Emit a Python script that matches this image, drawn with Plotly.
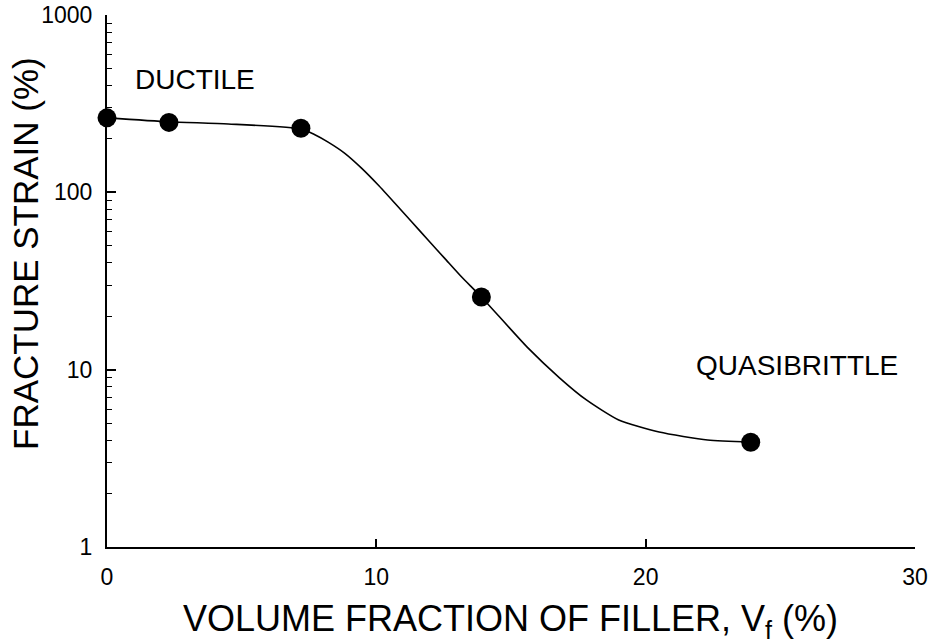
import plotly.graph_objects as go

# Measured points
points_x = [0, 2.3, 7.2, 13.9, 23.9]
points_y = [263, 248, 230, 25.7, 3.9]

# Smooth fitted curve
curve_x = [0, 2.3, 4.5, 7.2, 7.7, 8.21, 8.83, 9.45, 10.07, 10.69, 11.31, 11.92, 12.54, 13.16,
           13.9, 15.6, 16.8, 17.8, 19.0, 20.5, 22.3, 23.9]
curve_y = [263, 250, 243, 228, 212, 192, 166, 137, 110, 86.8, 68.3, 53.8, 42.4, 33.4,
           25.7, 13.4, 9.0, 6.75, 5.2, 4.45, 4.01, 3.91]

x_tickvals = [0, 10, 20, 30]
x_ticktext = ["0", "10", "20", "30"]
y_tickvals = [1, 10, 100, 1000]
y_ticktext = ["1", "10", "100", "1000"]
y_minor = [m * d for d in [1, 10, 100] for m in range(2, 10)]

x_title = "VOLUME FRACTION OF FILLER, V<sub>f</sub> (%)"
y_title = "FRACTURE STRAIN (%)"
label_ductile = "DUCTILE"
label_brittle = "QUASIBRITTLE"

FONT = "Arial, Liberation Sans, Helvetica, sans-serif"

W, H = 930, 643
L, R, T, B = 107, 15, 15, 96


def px_to_paper(xp, yp):
    return (xp - L) / (W - L - R), (H - B - yp) / (H - T - B)


fig = go.Figure()
fig.add_trace(go.Scatter(
    x=curve_x, y=curve_y, mode="lines",
    line=dict(color="black", width=1.6, shape="spline", smoothing=0.6),
    hoverinfo="skip", showlegend=False, cliponaxis=False,
))
fig.add_trace(go.Scatter(
    x=points_x, y=points_y, mode="markers",
    marker=dict(color="black", size=19, line=dict(width=0)),
    showlegend=False, cliponaxis=False,
))

fig.add_annotation(x=0.96, y=2.634, xref="x", yref="y", text=label_ductile,
                   showarrow=False, xanchor="left", yanchor="middle",
                   font=dict(family=FONT, size=28, color="black"))
fig.add_annotation(x=21.8, y=1.021, xref="x", yref="y", text=label_brittle,
                   showarrow=False, xanchor="left", yanchor="middle",
                   font=dict(family=FONT, size=28, color="black"))

# Axis titles
ax, ay = px_to_paper(510, 621)
fig.add_annotation(x=ax, y=ay, xref="paper", yref="paper", text=x_title,
                   showarrow=False, xanchor="center", yanchor="middle",
                   font=dict(family=FONT, size=36, color="black"))
ax, ay = px_to_paper(25, 254)
fig.add_annotation(x=ax, y=ay, xref="paper", yref="paper", text=y_title,
                   showarrow=False, textangle=-90, xanchor="center", yanchor="middle",
                   font=dict(family=FONT, size=35, color="black"))

fig.update_layout(
    width=W, height=H,
    margin=dict(l=L, r=R, t=T, b=B, autoexpand=False),
    paper_bgcolor="white", plot_bgcolor="white",
    font=dict(family=FONT, color="black"),
)
fig.update_xaxes(
    range=[0, 30], showgrid=False, zeroline=False, automargin=False,
    showline=True, linecolor="black", linewidth=2,
    tickmode="array", tickvals=x_tickvals, ticktext=x_ticktext,
    ticks="inside", ticklen=8, tickwidth=1.5, tickcolor="black",
    tickfont=dict(family=FONT, size=23, color="black"),
    ticklabelstandoff=8,
)
fig.update_yaxes(
    type="log", range=[0, 3], showgrid=False, zeroline=False, automargin=False,
    showline=True, linecolor="black", linewidth=2,
    tickmode="array", tickvals=y_tickvals, ticktext=y_ticktext,
    ticks="inside", ticklen=9, tickwidth=1.5, tickcolor="black",
    tickfont=dict(family=FONT, size=23, color="black"),
    ticklabelstandoff=8,
    minor=dict(tickmode="array", tickvals=y_minor, ticks="inside",
               ticklen=5, tickwidth=1.2, tickcolor="black", showgrid=False),
)

fig.write_html("out.html")
